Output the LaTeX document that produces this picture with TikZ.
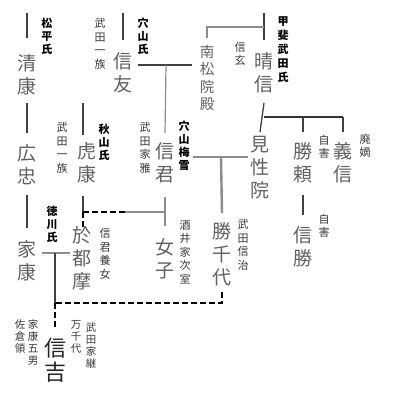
\documentclass[tikz,border=0pt]{standalone}
\usepackage{fontspec}
\newfontfamily\cjk{Noto Sans CJK JP}
\begin{document}
\begin{tikzpicture}[x=1pt,y=-1pt,
  nm/.style={font=\cjk\fontsize{19}{23}\selectfont, text=black!62, align=center, inner sep=0pt},
  md/.style={font=\cjk\fontsize{14.5}{17.5}\selectfont, text=black!62, align=center, inner sep=0pt},
  lb/.style={font=\cjk\fontsize{11}{13.5}\selectfont, text=black!78, align=center, inner sep=0pt},
  lbb/.style={font=\cjk\bfseries\fontsize{11}{13}\selectfont, text=black, align=center, inner sep=0pt},
  sm/.style={font=\cjk\fontsize{10.5}{12}\selectfont, text=black!78, align=center, inner sep=0pt},
  ln/.style={draw=black!75, line width=1.3pt},
  lg/.style={draw=black!45, line width=1.2pt},
  lm/.style={draw=black!45, line width=2.4pt},
  lt/.style={draw=black!80, line width=2pt},
  dsh/.style={draw=black, line width=1.5pt, dash pattern=on 6pt off 3pt}]
\fill[white] (0,0) rectangle (400,418);
\useasboundingbox (0,0) rectangle (400,418);
% main names
\node[nm] (kiyo) at (27,75) {清\\康};
\node[nm] (tomo) at (123,73) {信\\友};
\node[nm] (haru) at (264,73) {晴\\信};
\node[nm] (hiro) at (27,165) {広\\忠};
\node[nm] (tora) at (87,163) {虎\\康};
\node[nm] (kimi) at (165,163) {信\\君};
\node[nm] (ken) at (260,168) {見\\性\\院};
\node[nm] (katsu) at (303,163) {勝\\頼};
\node[nm] (yoshi) at (343,163) {義\\信};
\node[nm] (nkatsu) at (303,247) {信\\勝};
\node[nm] (ie) at (27,261) {家\\康};
\node[nm] (otsuma) at (82,258) {於\\都\\摩};
\node[nm] (jo) at (165,259) {女\\子};
\node[nm] (kchi) at (222,254) {勝\\千\\代};
\node[nm, text=black!85, draw=black!75, double, double distance=1.2pt, line width=0.7pt,
  minimum width=28pt, minimum height=62pt, font=\cjk\fontsize{22}{24}\selectfont] (ynobu) at (55,360) {信\\吉};
\node[md] (nan) at (207,78) {南\\松\\院\\殿};
% labels
\node[lbb] (l1) at (47,36) {松\\平\\氏};
\node[lb] (l2) at (100,44) {武\\田\\一\\族};
\node[lbb] (l3) at (143,36) {穴\\山\\氏};
\node[lb] (l4) at (240,54) {信\\玄};
\node[lbb, font=\cjk\bfseries\fontsize{11}{14}\selectfont] (l5) at (283,50) {甲\\斐\\武\\田\\氏};
\node[lb] (l6) at (62,148) {武\\田\\一\\族};
\node[lbb] (l7) at (104,142) {秋\\山\\氏};
\node[lb] (l8) at (145,148) {武\\田\\家\\雅};
\node[lbb] (l9) at (184,146) {穴\\山\\梅\\雪};
\node[lb] (l10) at (324,147) {自\\害};
\node[lb] (l11) at (365,146) {廃\\嫡};
\node[lb] (l12) at (324,226) {自\\害};
\node[lbb] (l13) at (52,224) {徳\\川\\氏};
\node[lb] (l14) at (105,254) {信\\君\\養\\女};
\node[lb] (l15) at (185,252) {酒\\井\\家\\次\\室};
\node[lb] (l16) at (243,245) {武\\田\\信\\治};
\node[sm] (l17) at (20,337) {佐\\倉\\領};
\node[sm] (l18) at (33,343) {家\\康\\五\\男};
\node[sm] (l19) at (76,337) {万\\千\\代};
\node[sm] (l20) at (91,346) {武\\田\\家\\継};
% connectors
\draw[ln] (kiyo |- 0,13) -- (kiyo |- 0,38);
\draw[ln] (kiyo |- 0,103) -- (hiro |- 0,133);
\draw[ln] (hiro |- 0,195) -- (ie |- 0,228);
\draw[ln] (tomo |- 0,13) -- (tomo |- 0,40);
\draw[ln] (haru |- 0,13) -- (haru |- 0,40);
\draw[lg] (haru |- 0,27) -- (nan |- 0,27) -- (nan |- 0,38);
\coordinate (m1) at (166,65);
\draw[ln] (138,65) -- (192,65);
\draw[lg] (m1) -- (kimi |- 0,133);
\coordinate (tx) at (83,103);
\draw[ln] (tx) -- (83,135);
\draw[ln] (haru |- 0,103) -- (ken |- 0,132);
\draw[lt] (haru |- 0,117) -- (yoshi |- 0,117);
\draw[ln] (katsu |- 0,117) -- (katsu |- 0,132);
\draw[ln] (yoshi |- 0,117) -- (yoshi |- 0,132);
\draw[ln] (katsu |- 0,195) -- (nkatsu |- 0,215);
\draw[lm] (193,157) -- (248,157);
\coordinate (m2) at (221,157);
\draw[lm] (m2) -- (kchi |- 0,213);
\draw[lg] (kimi |- 0,197) -- (jo |- 0,226);
\draw[lg] (kimi |- 0,212) -- (125,212);
\coordinate (j2) at (83,212);
\draw[dsh] (125,212) -- (j2);
\draw[ln] (83,196) -- (j2);
\draw[dsh] (j2) -- (83,230);
\draw[lm] (42,253) -- (70,253);
\coordinate (m3) at (55,253);
\coordinate (j3) at (55,303);
\draw[ln] (m3) -- (j3);
\draw[dsh] (j3) -- (ynobu.north);
\draw[dsh] (kchi |- 0,292) -- (kchi |- 0,303) -- (j3);
\end{tikzpicture}
\end{document}
